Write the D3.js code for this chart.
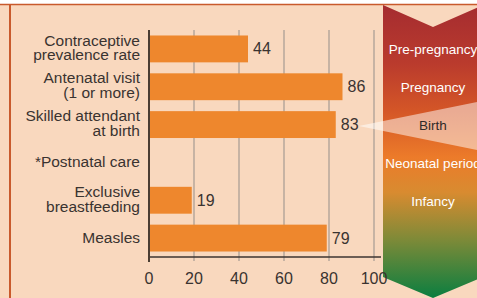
<!DOCTYPE html>
<html>
<head>
<meta charset="utf-8">
<script src="https://cdn.jsdelivr.net/npm/d3@7"></script>
<style>
  body { margin: 0; background: #fff; }
  svg { display: block; font-family: "Liberation Sans", Arial, sans-serif; }
</style>
</head>
<body>
<div class="chart"></div>
<script>
// data
const categories = [
  ["Contraceptive", "prevalence rate"],
  ["Antenatal visit", "(1 or more)"],
  ["Skilled attendant", "at birth"],
  ["*Postnatal care"],
  ["Exclusive", "breastfeeding"],
  ["Measles"]
];
const values = [44, 86, 83, null, 19, 79];
const stages = ["Pre-pregnancy", "Pregnancy", "Birth", "Neonatal period", "Infancy", ""];
const ticks = [0, 20, 40, 60, 80, 100];

const W = 477, H = 298;
const bg = "#F9D8BE";
const barColor = "#EE872D";
const textColor = "#3a3330";

const svg = d3.select(".chart").append("svg")
    .attr("width", W)
    .attr("height", H);

// background + frame
svg.append("rect").attr("x", 0).attr("y", 0).attr("width", W).attr("height", H).attr("fill", bg);
svg.append("rect").attr("x", 0).attr("y", 0).attr("width", W).attr("height", 4).attr("fill", "#fff");
svg.append("line").attr("x1", 0).attr("x2", W).attr("y1", 4.5).attr("y2", 4.5)
    .attr("stroke", "#C95A2C").attr("stroke-width", 1.5);
svg.append("line").attr("x1", 10).attr("x2", 10).attr("y1", 4).attr("y2", H)
    .attr("stroke", "#C95A2C").attr("stroke-width", 2);

const x = d3.scaleLinear().domain([0, 100]).range([149, 374]);
const y = d3.scaleBand().domain(d3.range(categories.length)).range([30, 257]).paddingInner(0.29).paddingOuter(0.145);
const yc = i => y(i) + y.bandwidth() / 2;

// stage arrow with gradient
const defs = svg.append("defs");
const grad = defs.append("linearGradient").attr("id", "stageGrad")
    .attr("x1", 0).attr("x2", 0).attr("y1", 0).attr("y2", 1);
[["0%", "#A52C30"], ["20%", "#BA3B2D"], ["36%", "#D45627"], ["52%", "#EC7B2A"],
 ["64%", "#D88B30"], ["80%", "#7E8A38"], ["100%", "#0A7E40"]]
  .forEach(([o, c]) => grad.append("stop").attr("offset", o).attr("stop-color", c));

const ax0 = 383, ax1 = 483, amid = 433;
svg.append("path")
    .attr("d", `M${ax0},5 L${amid},27 L${ax1},5 L${ax1},277 L${amid},298 L${ax0},277 Z`)
    .attr("fill", "url(#stageGrad)");

// gridlines + ticks below axis
svg.append("g").selectAll("line")
  .data(ticks.slice(1))
  .join("line")
    .attr("x1", d => x(d)).attr("x2", d => x(d))
    .attr("y1", 30).attr("y2", 261)
    .attr("stroke", "#A59B92").attr("stroke-width", 1.2);

// bars
svg.append("g").selectAll("rect")
  .data(values.map((v, i) => ({v, i})).filter(d => d.v != null))
  .join("rect")
    .attr("x", x(0))
    .attr("y", d => y(d.i))
    .attr("width", d => x(d.v) - x(0))
    .attr("height", y.bandwidth())
    .attr("fill", barColor);

// birth highlight wedge from the "83" label
const bi = 2;
const tipX = x(values[bi]) + 23, tipY = yc(bi) + 1.5;
svg.append("path")
    .attr("d", `M${tipX},${tipY} L${W},${tipY - 24} L${W},${tipY + 24} Z`)
    .attr("fill", "#fff").attr("opacity", 0.5);

// value labels
svg.append("g").selectAll("text")
  .data(values.map((v, i) => ({v, i})).filter(d => d.v != null))
  .join("text")
    .attr("x", d => x(d.v) + 5)
    .attr("y", d => yc(d.i) + 5.5)
    .attr("font-size", 16)
    .attr("fill", textColor)
    .text(d => d.v);

// axes
svg.append("line").attr("x1", x(0)).attr("x2", 381).attr("y1", 257).attr("y2", 257)
    .attr("stroke", "#3d3530").attr("stroke-width", 1.6);
svg.append("line").attr("x1", x(0)).attr("x2", x(0)).attr("y1", 30).attr("y2", 262)
    .attr("stroke", "#4a3d33").attr("stroke-width", 2);

svg.append("g").selectAll("text")
  .data(ticks)
  .join("text")
    .attr("x", d => x(d))
    .attr("y", 283.5)
    .attr("text-anchor", "middle")
    .attr("font-size", 16)
    .attr("fill", textColor)
    .text(d => d);

// category labels
const cat = svg.append("g").selectAll("text")
  .data(categories)
  .join("text")
    .attr("text-anchor", "end")
    .attr("font-size", 15.5)
    .attr("fill", textColor);
cat.each(function(lines, i) {
  const t = d3.select(this);
  const base = lines.length > 1 ? yc(i) - 3.4 : yc(i) + 5;
  lines.forEach((s, k) => {
    t.append("tspan").attr("x", 140).attr("y", base + k * 14.8).text(s);
  });
});

// stage labels
svg.append("g").selectAll("text")
  .data(stages)
  .join("text")
    .attr("x", amid)
    .attr("y", (d, i) => yc(i) + 5.5)
    .attr("text-anchor", "middle")
    .attr("font-size", 13.5)
    .attr("fill", (d, i) => i === bi ? "#2e2a28" : "#fff")
    .text(d => d);
</script>
</body>
</html>
